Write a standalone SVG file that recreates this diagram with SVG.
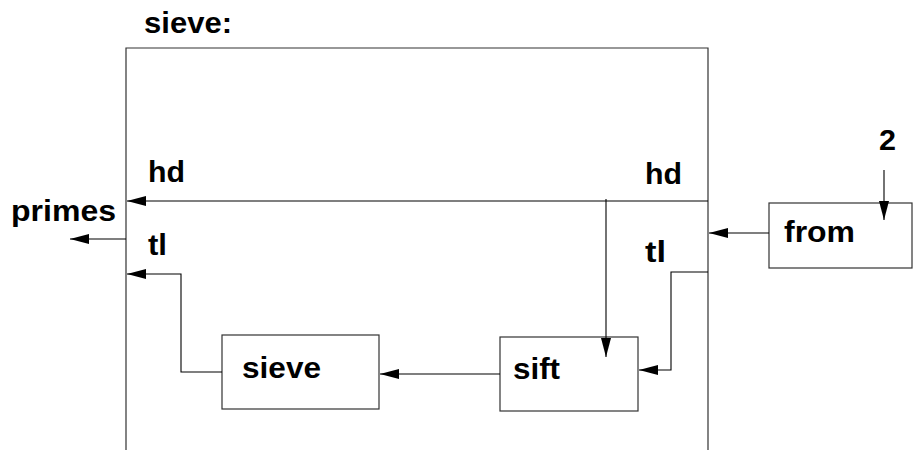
<svg xmlns="http://www.w3.org/2000/svg" width="915" height="450" viewBox="0 0 915 450">
<defs>
<marker id="ah" markerUnits="userSpaceOnUse" markerWidth="19" markerHeight="10" refX="19" refY="5" orient="auto">
<path d="M0,0 L19,5 L0,10 z" fill="#000"/>
</marker>
<style>
.t{font-family:"Liberation Sans",Arial,sans-serif;font-weight:bold;font-size:30px;fill:#000}
.box{fill:none;stroke:#333;stroke-width:1.2}
.c{fill:none;stroke:#000;stroke-width:1.1}
.ca{fill:none;stroke:#000;stroke-width:1.1;marker-end:url(#ah)}
</style>
</defs>
<rect width="915" height="450" fill="#fff"/>
<g id="outer">
<path class="box" d="M126,460 V48 H708 V460"/>
<text class="t" x="144" y="33" textLength="88" lengthAdjust="spacingAndGlyphs">sieve:</text>
</g>
<g id="sieve">
<rect class="box" x="222" y="335" width="157" height="74"/>
<text class="t" x="242" y="378" textLength="79" lengthAdjust="spacingAndGlyphs">sieve</text>
</g>
<g id="sift">
<rect class="box" x="500" y="337" width="138" height="74"/>
<text class="t" x="513" y="379" textLength="47" lengthAdjust="spacingAndGlyphs">sift</text>
</g>
<g id="from">
<rect class="box" x="769" y="203" width="143" height="65"/>
<text class="t" x="784" y="242" textLength="71" lengthAdjust="spacingAndGlyphs">from</text>
</g>
<g id="labels">
<text class="t" x="148" y="182" textLength="37" lengthAdjust="spacingAndGlyphs">hd</text>
<text class="t" x="645" y="184" textLength="37" lengthAdjust="spacingAndGlyphs">hd</text>
<text class="t" x="148" y="255" textLength="19" lengthAdjust="spacingAndGlyphs">tl</text>
<text class="t" x="645" y="262" textLength="21" lengthAdjust="spacingAndGlyphs">tl</text>
<text class="t" x="11" y="221" textLength="105" lengthAdjust="spacingAndGlyphs">primes</text>
<text class="t" x="879" y="150" textLength="17" lengthAdjust="spacingAndGlyphs">2</text>
</g>
<g id="connectors">
<path class="ca" d="M708,201 H127"/>
<path class="ca" d="M126,239 H70"/>
<path class="ca" d="M222,372 H181 V274 H127"/>
<path class="ca" d="M500,374 H380"/>
<path class="ca" d="M606,199 V357"/>
<path class="ca" d="M708,272 H671 V370 H639"/>
<path class="ca" d="M769,233 H709"/>
<path class="ca" d="M884,170 V220"/>
</g>
</svg>
